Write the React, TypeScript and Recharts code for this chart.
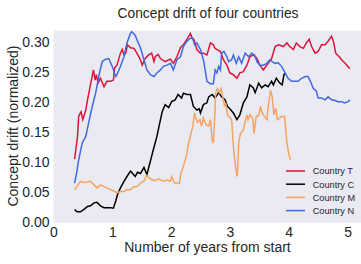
import React from 'react';
import { LineChart, Line, XAxis, YAxis, CartesianGrid, Legend, Label } from 'recharts';

const FONT = '"Liberation Sans", Arial, Helvetica, sans-serif';
const TEXT = '#262626';

const xTicks = [0, 1, 2, 3, 4, 5];
const yTicks = [0, 0.05, 0.1, 0.15, 0.2, 0.25, 0.3];

// Country T (red)
const tT = [0.35, 0.40, 0.42, 0.46, 0.49, 0.54, 0.57, 0.62, 0.67, 0.70, 0.72, 0.75, 0.79, 0.85, 0.90, 0.96, 1.01, 1.03, 1.07, 1.13, 1.16, 1.19, 1.22, 1.25, 1.30, 1.36, 1.41, 1.47, 1.50, 1.55, 1.61, 1.66, 1.70, 1.72, 1.77, 1.81, 1.89, 1.98, 2.03, 2.09, 2.15, 2.20, 2.26, 2.32, 2.35, 2.38, 2.43, 2.49, 2.54, 2.60, 2.66, 2.71, 2.73, 2.77, 2.83, 2.88, 2.94, 2.99, 3.05, 3.11, 3.16, 3.22, 3.28, 3.33, 3.39, 3.45, 3.50, 3.56, 3.64, 3.70, 3.76, 3.82, 3.90, 3.96, 4.01, 4.07, 4.12, 4.18, 4.24, 4.29, 4.34, 4.38, 4.44, 4.49, 4.55, 4.61, 4.66, 4.72, 4.75, 4.79, 4.85, 4.89, 4.95, 5.03];
const vT = [0.105, 0.143, 0.177, 0.184, 0.171, 0.187, 0.204, 0.229, 0.254, 0.237, 0.246, 0.232, 0.240, 0.226, 0.235, 0.235, 0.237, 0.257, 0.262, 0.282, 0.288, 0.279, 0.282, 0.296, 0.291, 0.290, 0.282, 0.271, 0.262, 0.273, 0.279, 0.282, 0.268, 0.276, 0.280, 0.273, 0.268, 0.272, 0.265, 0.276, 0.291, 0.296, 0.305, 0.315, 0.307, 0.305, 0.288, 0.282, 0.282, 0.279, 0.299, 0.296, 0.291, 0.288, 0.285, 0.271, 0.262, 0.249, 0.246, 0.240, 0.249, 0.251, 0.262, 0.276, 0.279, 0.273, 0.262, 0.254, 0.265, 0.273, 0.293, 0.296, 0.293, 0.299, 0.293, 0.288, 0.299, 0.293, 0.290, 0.299, 0.305, 0.293, 0.282, 0.285, 0.296, 0.296, 0.302, 0.310, 0.302, 0.282, 0.276, 0.271, 0.265, 0.256];

// Country C (black)
const tC = [0.35, 0.39, 0.45, 0.51, 0.57, 0.62, 0.68, 0.73, 0.79, 0.85, 0.90, 0.96, 1.01, 1.05, 1.08, 1.13, 1.19, 1.24, 1.30, 1.32, 1.38, 1.42, 1.47, 1.53, 1.58, 1.61, 1.64, 1.69, 1.75, 1.81, 1.84, 1.89, 1.95, 2.00, 2.06, 2.11, 2.17, 2.20, 2.26, 2.32, 2.37, 2.43, 2.47, 2.49, 2.54, 2.60, 2.63, 2.69, 2.74, 2.80, 2.85, 2.91, 2.95, 2.99, 3.05, 3.11, 3.16, 3.22, 3.28, 3.33, 3.39, 3.42, 3.48, 3.53, 3.59, 3.64, 3.70, 3.73, 3.78, 3.84, 3.88, 3.91, 3.94];
const vC = [0.021, 0.017, 0.017, 0.021, 0.026, 0.027, 0.032, 0.033, 0.027, 0.024, 0.024, 0.024, 0.023, 0.035, 0.046, 0.057, 0.068, 0.076, 0.085, 0.083, 0.076, 0.083, 0.081, 0.091, 0.079, 0.091, 0.102, 0.121, 0.143, 0.171, 0.184, 0.196, 0.191, 0.201, 0.204, 0.213, 0.207, 0.215, 0.213, 0.213, 0.193, 0.187, 0.189, 0.182, 0.196, 0.199, 0.209, 0.213, 0.207, 0.216, 0.209, 0.204, 0.193, 0.189, 0.182, 0.171, 0.179, 0.199, 0.209, 0.229, 0.224, 0.216, 0.232, 0.224, 0.229, 0.226, 0.235, 0.229, 0.240, 0.232, 0.229, 0.246, 0.249];

// Country M (orange)
const tM = [0.35, 0.39, 0.45, 0.51, 0.57, 0.62, 0.68, 0.73, 0.79, 0.85, 0.90, 0.99, 1.07, 1.13, 1.19, 1.24, 1.30, 1.36, 1.41, 1.47, 1.53, 1.57, 1.61, 1.66, 1.72, 1.78, 1.86, 1.92, 1.98, 2.00, 2.05, 2.09, 2.13, 2.16, 2.20, 2.25, 2.29, 2.33, 2.36, 2.39, 2.42, 2.44, 2.48, 2.51, 2.54, 2.58, 2.63, 2.66, 2.69, 2.71, 2.73, 2.75, 2.78, 2.81, 2.84, 2.87, 2.90, 2.92, 2.95, 2.98, 3.02, 3.05, 3.08, 3.11, 3.12, 3.14, 3.17, 3.22, 3.25, 3.28, 3.30, 3.33, 3.38, 3.40, 3.44, 3.48, 3.51, 3.54, 3.58, 3.62, 3.64, 3.68, 3.71, 3.74, 3.77, 3.80, 3.83, 3.86, 3.92, 3.94, 3.96, 3.99, 4.02];
const vM = [0.054, 0.059, 0.068, 0.066, 0.067, 0.068, 0.062, 0.057, 0.062, 0.059, 0.057, 0.053, 0.049, 0.051, 0.051, 0.054, 0.054, 0.059, 0.059, 0.065, 0.068, 0.078, 0.074, 0.071, 0.069, 0.072, 0.068, 0.070, 0.068, 0.076, 0.065, 0.065, 0.064, 0.082, 0.093, 0.110, 0.132, 0.148, 0.160, 0.182, 0.171, 0.166, 0.171, 0.160, 0.174, 0.163, 0.160, 0.171, 0.137, 0.132, 0.171, 0.216, 0.223, 0.216, 0.223, 0.209, 0.193, 0.199, 0.179, 0.176, 0.171, 0.127, 0.098, 0.076, 0.082, 0.132, 0.148, 0.154, 0.168, 0.179, 0.171, 0.179, 0.173, 0.148, 0.177, 0.177, 0.193, 0.182, 0.176, 0.171, 0.190, 0.220, 0.209, 0.179, 0.190, 0.171, 0.173, 0.176, 0.176, 0.154, 0.132, 0.115, 0.104];

// Country N (blue)
const tN = [0.35, 0.385, 0.42, 0.48, 0.54, 0.59, 0.65, 0.71, 0.76, 0.82, 0.88, 0.93, 0.99, 1.05, 1.07, 1.13, 1.19, 1.24, 1.30, 1.32, 1.38, 1.42, 1.47, 1.53, 1.58, 1.64, 1.70, 1.75, 1.81, 1.86, 1.92, 1.98, 2.03, 2.09, 2.15, 2.20, 2.26, 2.32, 2.36, 2.39, 2.43, 2.49, 2.54, 2.57, 2.60, 2.66, 2.71, 2.74, 2.77, 2.80, 2.83, 2.85, 2.89, 2.94, 2.97, 3.02, 3.05, 3.10, 3.14, 3.19, 3.25, 3.31, 3.36, 3.41, 3.45, 3.50, 3.56, 3.62, 3.67, 3.71, 3.76, 3.81, 3.87, 3.93, 3.98, 4.04, 4.10, 4.15, 4.21, 4.27, 4.32, 4.36, 4.41, 4.46, 4.49, 4.55, 4.61, 4.66, 4.72, 4.78, 4.83, 4.89, 4.94, 5.00, 5.03];
const vN = [0.065, 0.082, 0.104, 0.132, 0.143, 0.166, 0.193, 0.216, 0.243, 0.268, 0.272, 0.273, 0.260, 0.243, 0.246, 0.260, 0.276, 0.299, 0.315, 0.318, 0.312, 0.302, 0.291, 0.271, 0.254, 0.246, 0.243, 0.249, 0.254, 0.260, 0.262, 0.265, 0.254, 0.271, 0.276, 0.293, 0.302, 0.307, 0.307, 0.296, 0.299, 0.288, 0.271, 0.254, 0.235, 0.231, 0.231, 0.254, 0.249, 0.260, 0.254, 0.282, 0.285, 0.276, 0.268, 0.271, 0.279, 0.265, 0.276, 0.265, 0.282, 0.276, 0.282, 0.279, 0.268, 0.262, 0.262, 0.265, 0.271, 0.268, 0.265, 0.266, 0.260, 0.249, 0.240, 0.235, 0.235, 0.235, 0.240, 0.243, 0.243, 0.235, 0.223, 0.219, 0.207, 0.207, 0.204, 0.209, 0.204, 0.203, 0.201, 0.201, 0.199, 0.201, 0.204];

const toPoints = (xs: number[], ys: number[]) => xs.map((x, i) => ({ x, y: ys[i] }));

const series = [
  { name: 'Country T', color: '#DC143C', data: toPoints(tT, vT) },
  { name: 'Country C', color: '#000000', data: toPoints(tC, vC) },
  { name: 'Country M', color: '#F4A460', data: toPoints(tM, vM) },
  { name: 'Country N', color: '#4169E1', data: toPoints(tN, vN) },
];

const renderLegend = () => (
  <svg width={80} height={56} style={{ display: 'block', overflow: 'visible' }}>
    {series.map((s, i) => (
      <g key={s.name}>
        <line x1={0} x2={19} y1={7 + i * 13.2} y2={7 + i * 13.2} stroke={s.color} strokeWidth={1.5} />
        <text x={26.7} y={7 + i * 13.2 + 3.3} fontSize={9.2} fontFamily={FONT} fill={TEXT}>
          {s.name}
        </text>
      </g>
    ))}
  </svg>
);

export default function App() {
  return (
    <div style={{ position: 'absolute', left: 0, top: 0, width: 361, height: 264, background: '#fff' }}>
      <LineChart width={361} height={264} margin={{ top: 31, right: 0, bottom: 0, left: 0 }}>
        <CartesianGrid fill="#EAEAF2" stroke="#EAEAF2" />
        <XAxis
          type="number"
          dataKey="x"
          domain={[0, 5.22]}
          ticks={xTicks}
          allowDataOverflow
          axisLine={false}
          tickLine={false}
          tickSize={3}
          tickMargin={2}
          height={42}
          tick={{ fontSize: 14, fill: TEXT, fontFamily: FONT }}
        >
          <Label
            value="Number of years from start"
            position="insideBottom"
            offset={12}
            style={{ fontSize: 14, fill: TEXT, fontFamily: FONT }}
          />
        </XAxis>
        <YAxis
          type="number"
          domain={[0, 0.319]}
          ticks={yTicks}
          allowDataOverflow
          axisLine={false}
          tickLine={false}
          tickSize={2}
          tickMargin={2.5}
          width={54}
          tickFormatter={(v: number) => v.toFixed(2)}
          tick={{ fontSize: 14, fill: TEXT, fontFamily: FONT }}
        />
        {series.map((s) => (
          <Line
            key={s.name}
            data={s.data}
            dataKey="y"
            name={s.name}
            type="linear"
            stroke={s.color}
            strokeWidth={1.5}
            dot={false}
            activeDot={false}
            isAnimationActive={false}
          />
        ))}
        <Legend
          layout="vertical"
          align="center"
          verticalAlign="middle"
          content={renderLegend}
          wrapperStyle={{ left: 286, top: 163.7, width: 80, height: 56 }}
        />
      </LineChart>
      <svg
        width={361}
        height={264}
        style={{ position: 'absolute', left: 0, top: 0, pointerEvents: 'none' }}
      >
        <text x={208} y={17.5} textAnchor="middle" fontSize={13.8} fontFamily={FONT} fill={TEXT}>
          Concept drift of four countries
        </text>
        <text
          x={17.5}
          y={126}
          transform="rotate(-90 17.5 126)"
          textAnchor="middle"
          fontSize={14}
          fontFamily={FONT}
          fill={TEXT}
        >
          Concept drift (normalized)
        </text>
      </svg>
    </div>
  );
}
